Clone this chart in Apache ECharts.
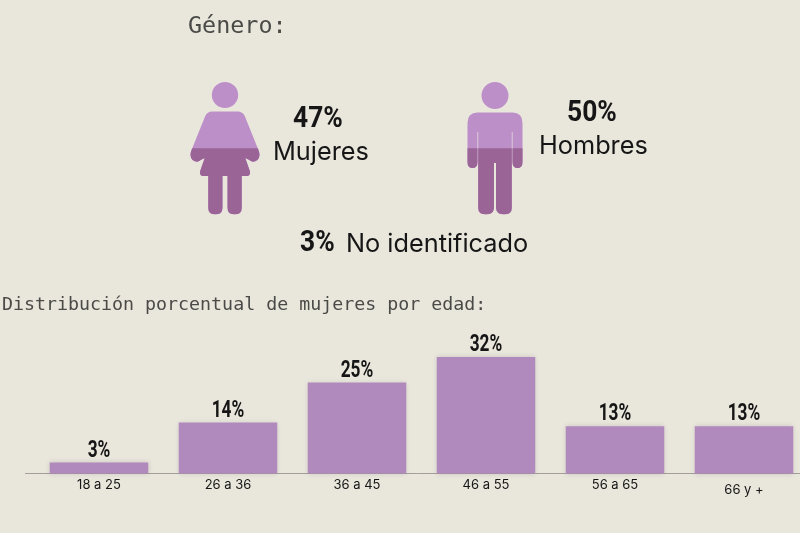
<!DOCTYPE html>
<html>
<head>
<meta charset="utf-8">
<style>
  html, body { margin: 0; padding: 0; background: #e9e6dc; }
  #chart { width: 800px; height: 533px; }
</style>
<script src="https://cdn.jsdelivr.net/npm/echarts@6/dist/echarts.min.js"></script>
</head>
<body>
<div id="chart"></div>
<script>
// datos de genero
let genderNames = ['Mujeres', 'Hombres']
let genderShares = [47, 50]
let otherName = 'No identificado'
let otherShare = 3

// nivel del tono oscuro en cada figura (las dos llegan a la mitad)
let iconFill = [50, 50]
let iconFull = [100, 100]

// datos de edad
let ageRanges = ['18 a 25', '26 a 36', '36 a 45', '46 a 55', '56 a 65', '66 y +']
let ageShares = [3, 14, 25, 32, 13, 13]

let womanPath = 'path://M224.5 82a13 13 0 1 1 0 26a13 13 0 1 1 0-26Z' +
  'M212 111.5L237 111.5Q242 111.5 244 116L257.5 150Q260 156 256.5 160Q252 163.5 248.5 160' +
  'L244.5 158L249 171Q250 176 245.5 176L241 176L241 208Q241 214.5 234 214.5Q227 214.5 227 208' +
  'L227 176L222 176L222 208Q222 214.5 215 214.5Q208 214.5 208 208L208 176L203.5 176Q199 176 200 171' +
  'L204.5 158L200.5 160Q197 163.5 192.5 160Q189 156 191.5 150L205 116Q207 111.5 212 111.5Z'

let manPath = 'path://M495 82a13.5 13.5 0 1 1 0 27a13.5 13.5 0 1 1 0-27Z' +
  'M477.5 112.5L512.5 112.5Q522.5 112.5 522.5 123L522.5 162Q522.5 168 517.5 168Q512.5 168 512.5 162' +
  'L512.5 132L511.8 132L511.8 208Q511.8 214.5 504 214.5Q496.5 214.5 496 208L496 163L494 163L494 208' +
  'Q493.5 214.5 486 214.5Q478.2 214.5 478.2 208L478.2 132L477.5 132L477.5 162Q477.5 168 472.5 168' +
  'Q467.5 168 467.5 162L467.5 123Q467.5 112.5 477.5 112.5Z'

let iconSymbols = [womanPath, manPath]
let lightPurple = '#bd8fc8'
let darkPurple = '#9a6497'
let barPurple = '#b08abd'
let ink = '#161616'
let monoFont = '"DejaVu Sans Mono", monospace'
let numberFont = 'Roboto, sans-serif'
let wordFont = 'Inter, sans-serif'

function iconData (values, sizes) {
  return values.map(function (value, i) {
    return {value: value, symbol: iconSymbols[i], symbolSize: [sizes[i], '100%']}
  })
}

function textItem (x, y, text, font, size, weight, color, scaleX) {
  return {
    type: 'text',
    x: x,
    y: y,
    scaleX: scaleX || 1,
    style: {text: text, font: weight + ' ' + size + 'px ' + font, fill: color}
  }
}

// etiquetas estrechas sobre las barras; el texto de serie no se puede escalar
function renderBarLabel (params, api) {
  let point = api.coord([api.value(0), api.value(1)])
  return {
    type: 'text',
    x: point[0],
    y: point[1],
    scaleX: 0.72,
    style: {
      text: api.value(1) + '%',
      textAlign: 'center',
      textVerticalAlign: 'bottom',
      font: 'bold 24px ' + numberFont,
      fill: ink
    }
  }
}

let iconWidths = [69, 55]

let chart = echarts.init(document.getElementById('chart'), null, {renderer: 'canvas'})

chart.setOption({
  backgroundColor: '#e9e6dc',
  animation: false,
  grid: [
    {left: 90, width: 540, top: 82, height: 132.5, outerBoundsMode: 'none'},
    {left: 34.5, width: 774, top: 291.5, height: 182, outerBoundsMode: 'none'}
  ],
  xAxis: [
    {
      type: 'category',
      gridIndex: 0,
      data: genderNames,
      show: false
    },
    {
      type: 'category',
      gridIndex: 1,
      data: ageRanges.map(function (name, i) {
        // la ultima etiqueta va un poco mas abajo
        return i === 5 ? {value: name, textStyle: {padding: [5, 0, 0, 0]}} : name
      }),
      axisLine: {lineStyle: {color: '#a59d9c', width: 1}},
      axisTick: {show: false},
      axisLabel: {
        color: ink,
        fontFamily: wordFont,
        fontSize: 13,
        margin: 5,
        interval: 0
      }
    }
  ],
  yAxis: [
    {type: 'value', gridIndex: 0, min: 0, max: 100, show: false},
    {type: 'value', gridIndex: 1, min: 0, max: 50, show: false}
  ],
  series: [
    {
      type: 'pictorialBar',
      xAxisIndex: 0,
      yAxisIndex: 0,
      data: iconData(iconFull, iconWidths),
      barGap: '-100%',
      symbolBoundingData: 100,
      symbolClip: true,
      z: 2,
      itemStyle: {color: lightPurple}
    },
    {
      type: 'pictorialBar',
      xAxisIndex: 0,
      yAxisIndex: 0,
      data: iconData(iconFill, iconWidths),
      barGap: '-100%',
      symbolBoundingData: 100,
      symbolClip: true,
      z: 3,
      itemStyle: {color: darkPurple}
    },
    {
      type: 'bar',
      xAxisIndex: 1,
      yAxisIndex: 1,
      data: ageShares,
      barWidth: 98.5,
      itemStyle: {
        color: barPurple,
        shadowColor: 'rgba(60, 40, 60, 0.18)',
        shadowBlur: 5
      }
    },
    {
      type: 'custom',
      xAxisIndex: 1,
      yAxisIndex: 1,
      data: ageShares.map(function (value, i) {
        return [i, value]
      }),
      renderItem: renderBarLabel,
      clip: false,
      z: 5
    }
  ],
  graphic: [
    // tramo de la linea base a la izquierda de la rejilla
    {
      type: 'line',
      shape: {x1: 25, y1: 473.5, x2: 35, y2: 473.5},
      style: {stroke: '#a59d9c', lineWidth: 1}
    },
    textItem(188, 15, 'Género:', monoFont, 23.4, 'normal', '#4a4a47'),
    textItem(2, 296, 'Distribución porcentual de mujeres por edad:', monoFont, 18.3, 'normal', '#4a4a47'),
    textItem(293, 104, genderShares[0] + '%', numberFont, 30, 'bold', ink, 0.88),
    textItem(273, 140, genderNames[0], wordFont, 25.3, 'normal', ink),
    textItem(567, 98, genderShares[1] + '%', numberFont, 30, 'bold', ink, 0.88),
    textItem(539, 134, genderNames[1], wordFont, 25.3, 'normal', ink),
    textItem(300, 228, otherShare + '%', numberFont, 30, 'bold', ink, 0.88),
    textItem(346, 232, otherName, wordFont, 25.3, 'normal', ink)
  ]
})
</script>
</body>
</html>
